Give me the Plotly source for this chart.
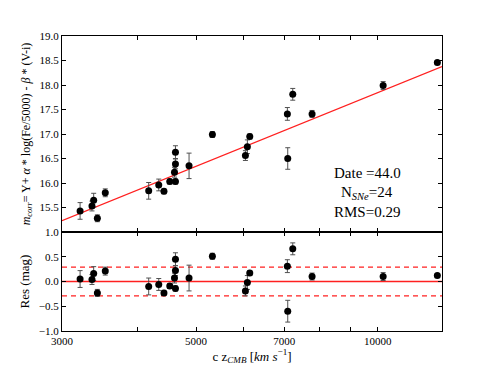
import numpy as np
import plotly.graph_objects as go
from plotly.subplots import make_subplots

# c z_CMB (km/s), corrected magnitudes, residuals and errors
cz = [3214, 3363, 3385, 3433, 3538, 4175, 4338, 4425, 4524, 4623, 4606, 4623,
      4623, 4869, 5322, 6036, 6081, 6137, 7093, 7083, 7782, 7230, 10203, 12545]
m_corr = [15.43, 15.53, 15.65, 15.28, 15.80, 15.84, 15.96, 15.83, 16.03, 16.03,
          16.22, 16.39, 16.63, 16.35, 16.99, 16.56, 16.74, 16.95, 16.50, 17.41,
          17.41, 17.81, 17.99, 18.46]
resid = [0.05, 0.04, 0.16, -0.23, 0.21, -0.10, -0.06, -0.23, -0.09, -0.14,
         0.07, 0.22, 0.45, 0.07, 0.51, -0.19, -0.02, 0.17, -0.60, 0.31,
         0.10, 0.66, 0.10, 0.12]
err = [0.17, 0.10, 0.14, 0.07, 0.08, 0.17, 0.12, 0.05, 0.05, 0.05, 0.10, 0.10,
       0.13, 0.26, 0.06, 0.10, 0.14, 0.05, 0.22, 0.13, 0.07, 0.12, 0.08, 0.03]

# Hubble-line fit: m = zp + 5 log10(cz)
fit_zp = -2.156
fit_slope = 5.0
rms = 0.29
date = 44.0
n_sne = 24

x_lo, x_hi = 3000, 12770
xfit = np.array([x_lo, x_hi])
yfit = fit_zp + fit_slope * np.log10(xfit)

FONT = "Liberation Serif"
RED = "#ff2020"
ERR = "#505050"

fig = make_subplots(rows=2, cols=1, shared_xaxes=True, vertical_spacing=0,
                    row_heights=[196, 99])

# top panel: magnitudes + fit
fig.add_trace(go.Scatter(x=xfit, y=yfit, mode="lines",
                         line=dict(color=RED, width=1.3)), row=1, col=1)
fig.add_trace(go.Scatter(
    x=cz, y=m_corr, mode="markers",
    marker=dict(color="black", size=7),
    error_y=dict(type="data", array=err, color=ERR, thickness=1, width=2.5),
), row=1, col=1)

# bottom panel: residuals
fig.add_trace(go.Scatter(x=xfit, y=[0, 0], mode="lines",
                         line=dict(color=RED, width=1.6)), row=2, col=1)
for s in (rms, -rms):
    fig.add_trace(go.Scatter(x=xfit, y=[s, s], mode="lines",
                             line=dict(color=RED, width=1.3, dash="5px,4px")),
                  row=2, col=1)
fig.add_trace(go.Scatter(
    x=cz, y=resid, mode="markers",
    marker=dict(color="black", size=7),
    error_y=dict(type="data", array=err, color=ERR, thickness=1, width=2.5),
), row=2, col=1)

tick_font = dict(family=FONT, size=11, color="black")
axis_common = dict(showline=True, linecolor="black", linewidth=1, mirror="ticks",
                   ticks="inside", ticklen=4, tickcolor="black", showgrid=False,
                   zeroline=False, tickfont=tick_font, automargin=False)

fig.update_xaxes(type="log", range=[np.log10(x_lo), np.log10(x_hi)],
                 tickmode="array", tickvals=[3000, 5000, 7000, 10000],
                 ticktext=["3000", "5000", "7000", "10000"],
                 minor=dict(tickmode="array", tickvals=[4000, 6000, 8000, 9000],
                            ticks="inside", ticklen=4, tickcolor="black"),
                 **axis_common)
fig.update_xaxes(showticklabels=False, row=1, col=1)
fig.update_xaxes(title=dict(text="c z<sub><i>CMB</i></sub> [<i>km s</i><sup>−1</sup>]",
                            font=dict(family=FONT, size=13, color="black"), standoff=2),
                 row=2, col=1)

yt1 = [15.0, 15.5, 16.0, 16.5, 17.0, 17.5, 18.0, 18.5, 19.0]
fig.update_yaxes(range=[15, 19], tickmode="array", tickvals=yt1,
                 ticktext=[""] + [f"{v:.1f}" for v in yt1[1:]],
                 title=dict(text="<i>m<sub>corr</sub></i>= Y+ <i>α</i> * log(Fe/5000) - <i>β</i> * (V-i)",
                            font=dict(family=FONT, size=12, color="black"), standoff=6),
                 row=1, col=1, **axis_common)
yt2 = [-1.0, -0.5, 0.0, 0.5, 1.0]
fig.update_yaxes(range=[-1, 1], tickmode="array", tickvals=yt2,
                 ticktext=["−1.0", "−0.5", "0.0", "0.5", "1.0"],
                 title=dict(text="Res (mag)", font=dict(family=FONT, size=13, color="black"),
                            standoff=6),
                 row=2, col=1, **axis_common)

notes = [f"Date ={date}", f"N<sub><i>SNe</i></sub>={n_sne}", f"RMS={rms}"]
note_y = [16.20, 15.80, 15.41]
for t, yy in zip(notes, note_y):
    fig.add_annotation(text=t, xref="x", yref="y", x=np.log10(9600), y=yy,
                       showarrow=False, font=dict(family=FONT, size=15, color="black"))

# page body adds an 8px offset, so the figure is 8px smaller on each side
fig.update_layout(width=483, height=360, showlegend=False,
                  margin=dict(l=54, r=49, t=28, b=37),
                  paper_bgcolor="white", plot_bgcolor="white")

fig.write_html("out.html")
